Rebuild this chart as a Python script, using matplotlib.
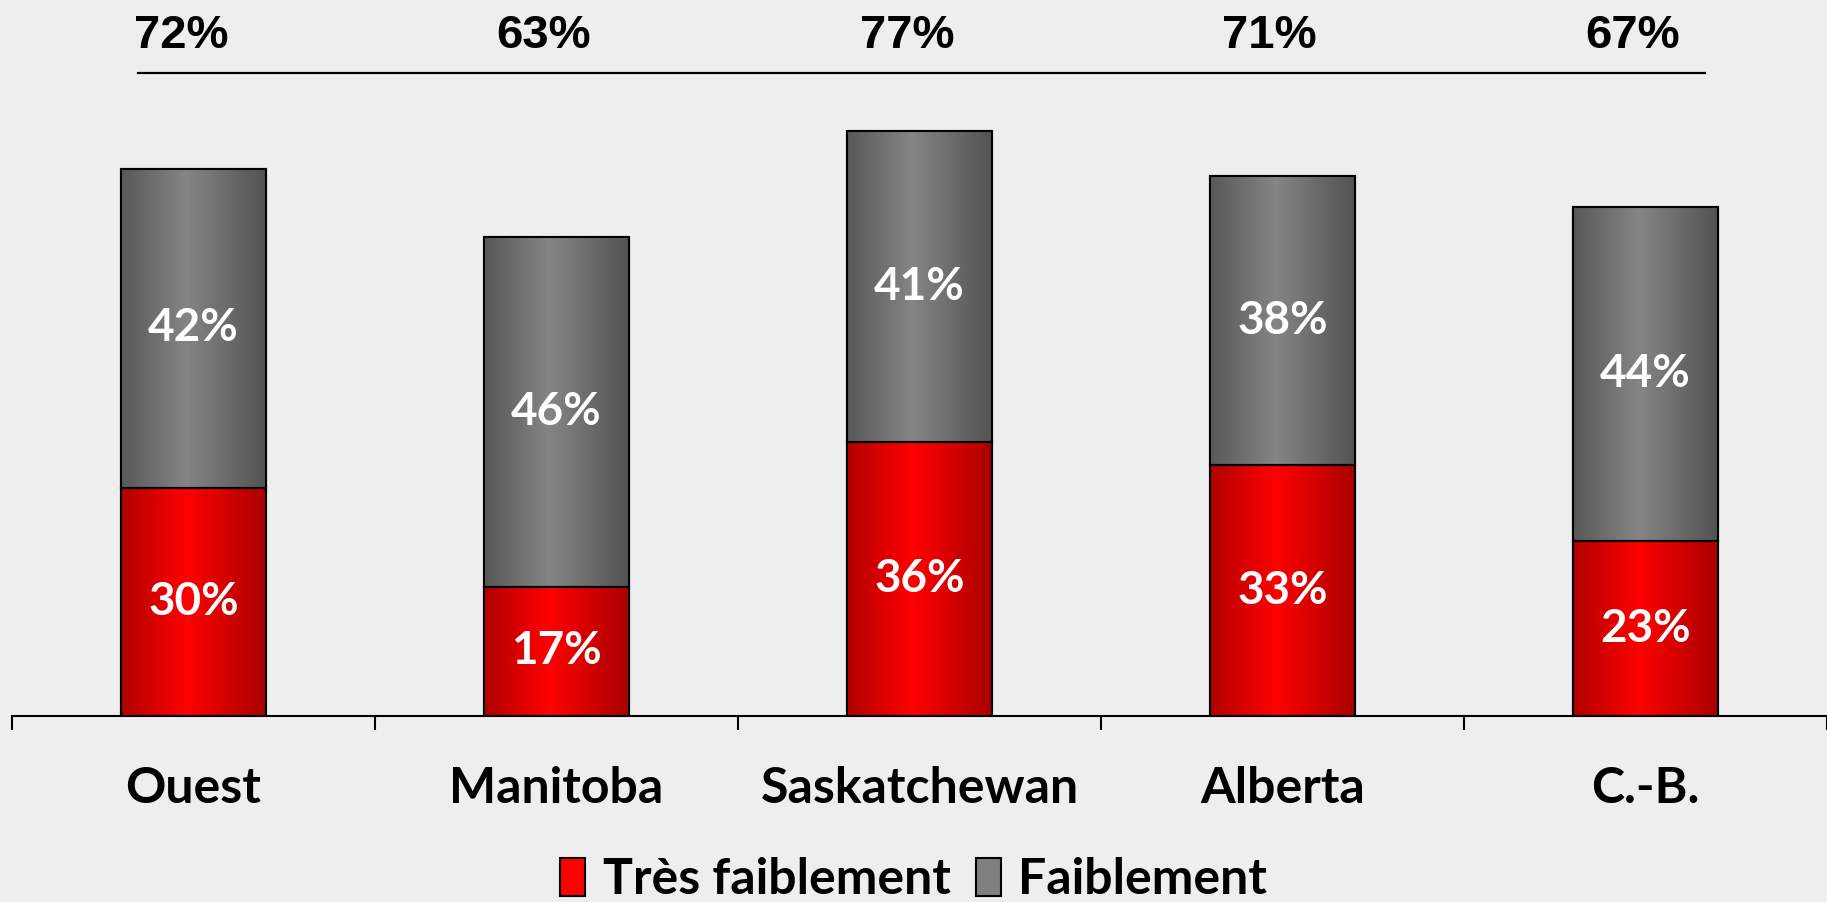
import numpy as np
import matplotlib.pyplot as plt
from matplotlib.colors import LinearSegmentedColormap
from matplotlib.patches import Rectangle

regions = ['Ouest', 'Manitoba', 'Saskatchewan', 'Alberta', 'C.-B.']
tres_faiblement = [30, 17, 36, 33, 23]
faiblement = [42, 46, 41, 38, 44]

BG = '#eeeeee'
plt.rcParams['font.family'] = ['Lato', 'DejaVu Sans']

fig = plt.figure(figsize=(18.27, 9.02), dpi=100, facecolor=BG)
ax = fig.add_axes([12 / 1827, 186 / 902, 1 - 12 / 1827, 716 / 902])
ax.set_facecolor(BG)

x = np.arange(len(regions))
w = 0.4
red_cmap = LinearSegmentedColormap.from_list('red', [(0, '#b00000'), (0.45, '#ff0000'), (1, '#a80000')])
gray_cmap = LinearSegmentedColormap.from_list('gray', [(0, '#585858'), (0.45, '#858585'), (1, '#525252')])
grad = np.linspace(0, 1, 256).reshape(1, -1)

b1 = ax.bar(x, tres_faiblement, w, color='#ff0000', edgecolor='black', lw=1.5,
            label='Très faiblement', zorder=2)
b2 = ax.bar(x, faiblement, w, bottom=tres_faiblement, color='#7f7f7f', edgecolor='black',
            lw=1.5, label='Faiblement', zorder=2)

# horizontal gradient on every bar, clipped to the bar itself
for bars, cmap in ((b1, red_cmap), (b2, gray_cmap)):
    for r in bars:
        x0, y0, bw, bh = r.get_x(), r.get_y(), r.get_width(), r.get_height()
        im = ax.imshow(grad, cmap=cmap, extent=(x0, x0 + bw, y0, y0 + bh), aspect='auto',
                       interpolation='bicubic', zorder=2.5)
        im.set_clip_path(r)
        ax.add_patch(Rectangle((x0, y0), bw, bh, fill=False, edgecolor='black', lw=1.5, zorder=3))

for xi, a, b in zip(x, tres_faiblement, faiblement):
    ax.text(xi, a / 2, f'{a}%', ha='center', va='center', color='white',
            fontsize=33, fontweight='bold', zorder=4)
    ax.text(xi, a + b / 2, f'{b}%', ha='center', va='center', color='white',
            fontsize=33, fontweight='bold', zorder=4)
    ax.text(xi - 0.035, 89.5, f'{a + b}%', ha='center', va='center', color='black',
            fontsize=34, fontweight='bold', family='Liberation Sans', clip_on=False)

ax.plot([-0.152, 4.165], [84.6, 84.6], color='black', lw=1.6, clip_on=False)

ax.set_xlim(-0.5, 4.47)
ax.set_ylim(0, 716 / 7.6)
ax.set_aspect('auto')
for s in ('left', 'top', 'right'):
    ax.spines[s].set_visible(False)
ax.spines['bottom'].set_linewidth(1.5)
ax.set_yticks([])
ax.set_xticks(np.arange(-0.5, 5, 1))
ax.set_xticklabels([])
ax.set_xticks(x, regions, minor=True)
ax.tick_params(axis='x', which='major', length=10, width=1.5, direction='out')
ax.tick_params(axis='x', which='minor', length=0, pad=36, labelsize=36)
for t in ax.get_xticklabels(minor=True):
    t.set_fontweight('bold')

fig.legend(handles=[b1, b2], loc='center', bbox_to_anchor=(0.5, 22 / 902), ncol=2,
           frameon=False, prop={'weight': 'bold', 'size': 36},
           handlelength=0.5, handleheight=0.8, handletextpad=0.35, columnspacing=0.5,
           borderaxespad=0)

fig.savefig('out.png', dpi=100, facecolor=BG)
